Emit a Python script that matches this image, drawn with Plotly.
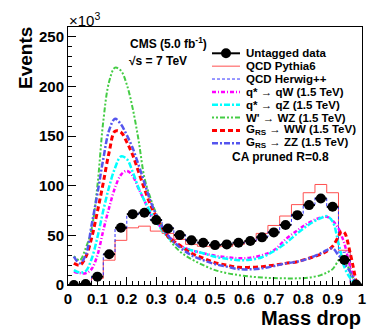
import numpy as np
import plotly.graph_objects as go

# binning (mass drop), 25 bins of 0.04
bin_width = 0.04
bin_centers = [0.02, 0.06, 0.10, 0.14, 0.18, 0.22, 0.26, 0.30, 0.34, 0.38, 0.42, 0.46, 0.50,
               0.54, 0.58, 0.62, 0.66, 0.70, 0.74, 0.78, 0.82, 0.86, 0.90, 0.94, 0.98]

# events in units of 10^3
data_vals = [0, 1, 8.4, 31, 57.7, 71.4, 72.8, 65.4, 57, 50.3, 45, 42.6, 40.2,
             40.9, 42.6, 44.3, 48, 53, 60.4, 70.4, 80.5, 87.2, 78.8, 25.2, 0.5]
pythia_vals = [0, 0.3, 6.7, 25, 45, 57.6, 59.3, 54.3, 52, 46, 41, 39, 38.5,
               39, 41, 44, 52, 60, 69.5, 81, 93, 101.3, 93, 35, 0.5]
herwig_vals = [0, 0.8, 8.5, 31, 57, 71, 72.5, 65.5, 57.5, 50.5, 45, 42.5, 40.5,
               41, 42.5, 44.5, 48.5, 53.5, 61, 71, 81, 88, 78, 33, 0.5]

# signal shapes (smooth curves)
sig_x = [0.02, 0.04, 0.06, 0.08, 0.10, 0.12, 0.14, 0.16, 0.18, 0.20, 0.22, 0.24, 0.26, 0.28,
         0.30, 0.34, 0.38, 0.42, 0.46, 0.50, 0.54, 0.58, 0.62, 0.66, 0.70, 0.74, 0.78, 0.82,
         0.86, 0.88, 0.90, 0.92, 0.93, 0.94, 0.96, 0.98]
qstar_qw = [13.4, 12, 11.8, 16, 30, 55, 78, 98, 111, 115, 110, 97, 85, 72,
            64, 50, 40, 35, 32, 29.5, 28, 27, 27.5, 30, 35, 46, 55, 63,
            68, 68.7, 65, 57, 50, 42, 18, 1]
qstar_qz = [15, 12.5, 14, 26, 48, 75, 99, 118, 129.5, 127, 114, 98, 85, 74,
            64, 48, 39, 35, 32, 28.5, 26.5, 25, 25.5, 28, 34, 42, 52, 61,
            67.5, 69.4, 64, 42, 30, 18, 7, 0.5]
wprime_wz = [29, 25, 37, 56, 100, 165, 205, 219, 216, 202, 178, 146, 108, 88,
             72, 48, 34, 26, 20, 15, 12, 10, 8.5, 7.5, 7, 6.7, 6.7, 7.5,
             10, 12.5, 16, 25, 29, 27, 13, 1]
grs_ww = [22, 20, 28, 47, 74, 103, 134, 155, 154, 144, 131, 114, 97, 81,
          69, 49, 40, 32, 27, 22.5, 20, 17.8, 17.8, 18.5, 20, 21.8, 23.5, 27,
          31, 34, 39, 49, 54, 53, 32, 3]
grs_zz = [28.5, 22, 30, 60, 92, 127, 156, 167.5, 162, 151, 138, 121, 103, 85,
          71, 50, 38, 30, 25, 21, 18.5, 16, 15.8, 16.8, 19, 21.8, 23.5, 27,
          32, 35, 37, 30, 27, 22, 13, 1]

edges = [c - bin_width / 2 for c in bin_centers] + [bin_centers[-1] + bin_width / 2]

fig = go.Figure()

def step(vals):
    return list(vals) + [vals[-1]]

fig.add_trace(go.Scatter(x=edges, y=step(pythia_vals), mode="lines", line_shape="hv",
                         line=dict(color="#ff5050", width=1)))
fig.add_trace(go.Scatter(x=edges, y=step(herwig_vals), mode="lines", line_shape="hv",
                         line=dict(color="#3030ff", width=1, dash="3px,2px")))

curves = [
    (qstar_qw, "#ff00ff", "4px,2px,1px,2px", 2.5),
    (qstar_qz, "#00ffff", "6px,2px,2px,2px", 2.5),
    (wprime_wz, "#44cc44", "2px,2px,2px,2px,5px,2px", 2),
    (grs_ww, "#ff0000", "5px,3px", 3),
    (grs_zz, "#5555ee", "6px,2px,2px,2px", 2.5),
]
for vals, col, dash, w in curves:
    fig.add_trace(go.Scatter(x=sig_x, y=vals, mode="lines", line_shape="spline",
                             line=dict(color=col, width=w, dash=dash)))

fig.add_trace(go.Scatter(x=bin_centers, y=data_vals, mode="markers",
                         marker=dict(color="black", size=10),
                         error_x=dict(type="constant", value=bin_width / 2, color="black",
                                      thickness=2, width=0)))

font_b = dict(family="Liberation Sans, Arial", color="black", weight="bold")

# the page body adds an 8px margin, so the figure is 8px smaller and offsets are in page pixels
OFF = 8
W, H = 382 - OFF, 336 - OFF
L, R, T, B = 68 - OFF, 20, 27 - OFF, 51
pw, ph = W - L - R, H - T - B

def px(xp):
    return (xp - OFF - L) / pw

def py(yp):
    return (H - B - (yp - OFF)) / ph

shapes = []
annotations = []

legend_rows = [
    ("Untagged data", "black", "solid", 2),
    ("QCD Pythia6", "#ff5050", "solid", 1),
    ("QCD Herwig++", "#3030ff", "3px,2px", 1),
    ("q* \u2192 qW (1.5 TeV)", "#ff00ff", "4px,2px,1px,2px", 2.5),
    ("q* \u2192 qZ (1.5 TeV)", "#00ffff", "6px,2px,2px,2px", 2.5),
    ("W' \u2192 WZ (1.5 TeV)", "#44cc44", "2px,2px,2px,2px,5px,2px", 2),
    ("G<sub>RS</sub> \u2192 WW (1.5 TeV)", "#ff0000", "5px,3px", 3),
    ("G<sub>RS</sub> \u2192 ZZ (1.5 TeV)", "#5555ee", "6px,2px,2px,2px", 2.5),
]
for i, (txt, col, dash, w) in enumerate(legend_rows):
    yy = 53.3 + i * 12.86
    shapes.append(dict(type="line", xref="paper", yref="paper", x0=px(212), x1=px(240),
                       y0=py(yy), y1=py(yy), line=dict(color=col, width=w, dash=dash)))
    annotations.append(dict(x=px(244), y=py(yy), xref="paper", yref="paper", text=txt,
                            showarrow=False, xanchor="left", yanchor="middle",
                            font=dict(size=11.5, **font_b)))
shapes.append(dict(type="circle", xref="paper", yref="paper", xsizemode="pixel", ysizemode="pixel",
                   xanchor=px(226), yanchor=py(53.3), x0=-5, x1=5, y0=-5, y1=5,
                   fillcolor="black", line=dict(color="black", width=0)))

annotations += [
    dict(x=px(280), y=py(157), text="CA pruned R=0.8", xanchor="center",
         font=dict(size=12, **font_b)),
    dict(x=px(128), y=py(43), text="CMS (5.0 fb<sup>-1</sup>)", xanchor="left",
         font=dict(size=12, **font_b)),
    dict(x=px(127), y=py(61), text="\u221As = 7 TeV", xanchor="left", font=dict(size=12, **font_b)),
    dict(x=px(67), y=py(20), text="\u00d710<sup>3</sup>", xanchor="left",
         font=dict(size=15, family="Liberation Sans, Arial", color="black")),
    dict(x=px(363), y=py(318), text="Mass drop", xanchor="right", font=dict(size=20, **font_b)),
    dict(x=px(25), y=py(25), text="Events", textangle=-90, xanchor="center", yanchor="top",
         font=dict(size=19, **font_b)),
]
for a in annotations:
    a.setdefault("xref", "paper")
    a.setdefault("yref", "paper")
    a.setdefault("showarrow", False)
    a.setdefault("yanchor", "middle")

fig.update_layout(
    width=W, height=H,
    margin=dict(l=L, r=R, t=T, b=B),
    paper_bgcolor="white", plot_bgcolor="white",
    showlegend=False,
    shapes=shapes, annotations=annotations,
    xaxis=dict(range=[0, 1], dtick=0.1, ticks="inside", ticklen=8, tickcolor="black",
               showline=True, linecolor="black", linewidth=1, mirror=True, showgrid=False,
               zeroline=False, tickfont=dict(size=15, **font_b),
               minor=dict(dtick=0.02, ticks="inside", ticklen=4, tickcolor="black")),
    yaxis=dict(range=[0, 260], dtick=50, ticks="inside", ticklen=8, tickcolor="black",
               showline=True, linecolor="black", linewidth=1, mirror=True, showgrid=False,
               zeroline=False, tickfont=dict(size=15, **font_b),
               minor=dict(dtick=10, ticks="inside", ticklen=4, tickcolor="black")),
)

fig.write_html("out.html")
